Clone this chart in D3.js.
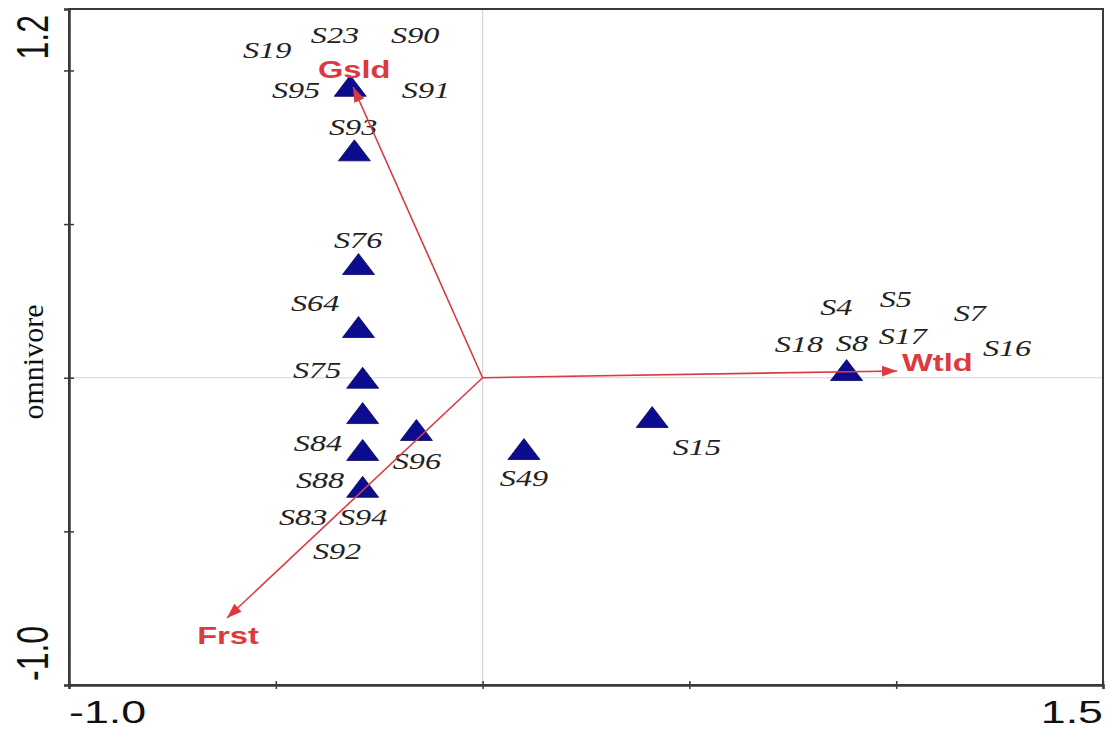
<!DOCTYPE html>
<html><head><meta charset="utf-8">
<script src="https://cdn.jsdelivr.net/npm/d3@7"></script>
<style>body{margin:0;background:#fff}</style>
</head><body>
<svg id="c" width="1113" height="731"></svg>
<script>
// ---- data ----
const xDomain = [-1.0, 1.5];
const yDomain = [-1.0, 1.2];
const xTickValues = [-1.0, -0.5, 0, 0.5, 1.0, 1.5];
const yTickValues = [-1.0, -0.5, 0, 0.5, 1.0];
const xTickLabels = ["-1.0", "1.5"];
const yTickLabels = ["-1.0", "1.2"];
const axisTitle = "omnivore";

// triangle markers
const pointX = [-0.32, -0.31, -0.30, -0.30, -0.29, -0.29, -0.29, -0.16, -0.29, 0.10, 0.41, 0.88];
const pointY = [0.95, 0.74, 0.37, 0.165, 0.00, -0.115, -0.235, -0.17, -0.355, -0.232, -0.128, 0.025];

// site labels
const siteNames = ["S19","S23","S90","S95","S91","S93","S76","S64","S75","S84","S96","S88","S83","S94","S92","S49","S15","S4","S5","S7","S18","S8","S17","S16"];
const siteX = [-0.521,-0.357,-0.163,-0.451,-0.137,-0.313,-0.301,-0.405,-0.400,-0.398,-0.159,-0.393,-0.434,-0.289,-0.352,0.100,0.518,0.855,0.999,1.178,0.765,0.893,1.016,1.268];
const siteY = [1.066,1.115,1.115,0.936,0.936,0.816,0.448,0.243,0.025,-0.213,-0.271,-0.333,-0.453,-0.453,-0.564,-0.326,-0.226,0.230,0.256,0.211,0.109,0.113,0.136,0.097];

// environmental vectors
const envNames = ["Gsld", "Wtld", "Frst"];
const envX = [-0.313, 1.002, -0.618];
const envY = [0.946, 0.022, -0.782];

// ---- drawing ----
const L = 69, R = 1103, T = 9, B = 685;
const SX = 1.4; // horizontal stretch of the original picture
const svg = d3.select("#c");
const x = d3.scaleLinear().domain(xDomain).range([L, R]);
const y = d3.scaleLinear().domain(yDomain).range([B, T]);
const red = "#dd3a40";
const navy = "#0c0c8e";

// zero lines
svg.append("line").attr("x1", x(0)).attr("x2", x(0)).attr("y1", T).attr("y2", B)
  .attr("stroke", "#d4d4d4").attr("stroke-width", 1.2);
svg.append("line").attr("x1", L).attr("x2", R).attr("y1", y(0)).attr("y2", y(0))
  .attr("stroke", "#d4d4d4").attr("stroke-width", 1.2);

// frame
svg.append("rect").attr("x", L).attr("y", T).attr("width", R - L).attr("height", B - T)
  .attr("fill", "none").attr("stroke", "#3a3a3a").attr("stroke-width", 2);

// axes (ticks crossing the axis line)
const gx = svg.append("g").attr("transform", `translate(0,${B})`)
  .call(d3.axisBottom(x).tickValues(xTickValues).tickSize(4).tickFormat(""));
const gy = svg.append("g").attr("transform", `translate(${L},0)`)
  .call(d3.axisLeft(y).tickValues(yTickValues).tickSize(5).tickFormat(""));
[gx, gy].forEach(g => {
  g.select(".domain").attr("stroke", "#3a3a3a").attr("stroke-width", 2.5);
  g.selectAll(".tick line").attr("stroke", "#3a3a3a").attr("stroke-width", 1.5);
});
gx.selectAll(".tick line").attr("y1", -4);
gy.selectAll(".tick line").attr("x1", 5);

// tick labels
const tickFont = "'Liberation Sans', Arial, sans-serif";
svg.append("text").attr("transform", `translate(${x(xDomain[0])},723) scale(${SX},1)`)
  .attr("text-anchor", "start").attr("font-family", tickFont).attr("font-size", 32)
  .attr("fill", "#111").text(xTickLabels[0]);
svg.append("text").attr("transform", `translate(${x(xDomain[1])},723) scale(${SX},1)`)
  .attr("text-anchor", "end").attr("font-family", tickFont).attr("font-size", 32)
  .attr("fill", "#111").text(xTickLabels[1]);
svg.append("text").attr("transform", `translate(48,${y(yDomain[0]) - 4}) scale(${SX},1) rotate(-90)`)
  .attr("text-anchor", "start").attr("font-family", tickFont).attr("font-size", 32)
  .attr("fill", "#111").text(yTickLabels[0]);
svg.append("text").attr("transform", `translate(48,${y(yDomain[1]) + 6}) scale(${SX},1) rotate(-90)`)
  .attr("text-anchor", "end").attr("font-family", tickFont).attr("font-size", 32)
  .attr("fill", "#111").text(yTickLabels[1]);

// axis title
svg.append("text").attr("transform", `translate(43,${(T + B) / 2 + 15}) rotate(-90)`)
  .attr("text-anchor", "middle").attr("font-family", "'Liberation Serif', 'Times New Roman', serif")
  .attr("font-size", 30).attr("fill", "#111").text(axisTitle);

// site labels
const sites = siteNames.map((n, i) => ({ n, x: siteX[i], y: siteY[i] }));
svg.append("g").selectAll("text").data(sites).join("text")
  .attr("transform", d => `translate(${x(d.x)},${y(d.y)}) scale(${SX},1)`)
  .attr("text-anchor", "middle").attr("dy", "0.34em")
  .attr("font-family", "'Liberation Serif', 'Times New Roman', serif")
  .attr("font-style", "italic").attr("font-size", 23).attr("fill", "#222")
  .text(d => d.n);

// triangles
const tw = 32, th = 21;
const pts = pointX.map((v, i) => ({ x: v, y: pointY[i] }));
svg.append("g").selectAll("path").data(pts).join("path")
  .attr("d", d => {
    const cx = x(d.x), cy = y(d.y);
    return `M${cx},${cy - th / 2}L${cx + tw / 2},${cy + th / 2}L${cx - tw / 2},${cy + th / 2}Z`;
  })
  .attr("fill", navy).attr("stroke", "#07075e").attr("stroke-width", 0.8);

// arrows
svg.append("defs").append("marker").attr("id", "ah")
  .attr("viewBox", "0 -5 10 10").attr("refX", 10).attr("refY", 0)
  .attr("markerUnits", "userSpaceOnUse").attr("markerWidth", 15).attr("markerHeight", 15)
  .attr("orient", "auto")
  .append("path").attr("d", "M0,-3.6L10,0L0,3.6Z").attr("fill", red);

const env = envNames.map((n, i) => ({ n, x: envX[i], y: envY[i] }));
svg.append("g").selectAll("line").data(env).join("line")
  .attr("x1", x(0)).attr("y1", y(0))
  .attr("x2", d => x(d.x)).attr("y2", d => y(d.y))
  .attr("stroke", red).attr("stroke-width", 1.6).attr("marker-end", "url(#ah)");

const envOffset = { Gsld: [1, -18, "middle"], Wtld: [5, -9, "start"], Frst: [1, 17, "middle"] };
svg.append("g").selectAll("text").data(env).join("text")
  .attr("transform", d => `translate(${x(d.x) + envOffset[d.n][0]},${y(d.y) + envOffset[d.n][1]}) scale(1.36,1)`)
  .attr("text-anchor", d => envOffset[d.n][2]).attr("dy", "0.36em")
  .attr("font-family", "'Liberation Sans', Arial, sans-serif").attr("font-weight", "bold")
  .attr("font-size", 24).attr("fill", red).text(d => d.n);
</script>
</body></html>
